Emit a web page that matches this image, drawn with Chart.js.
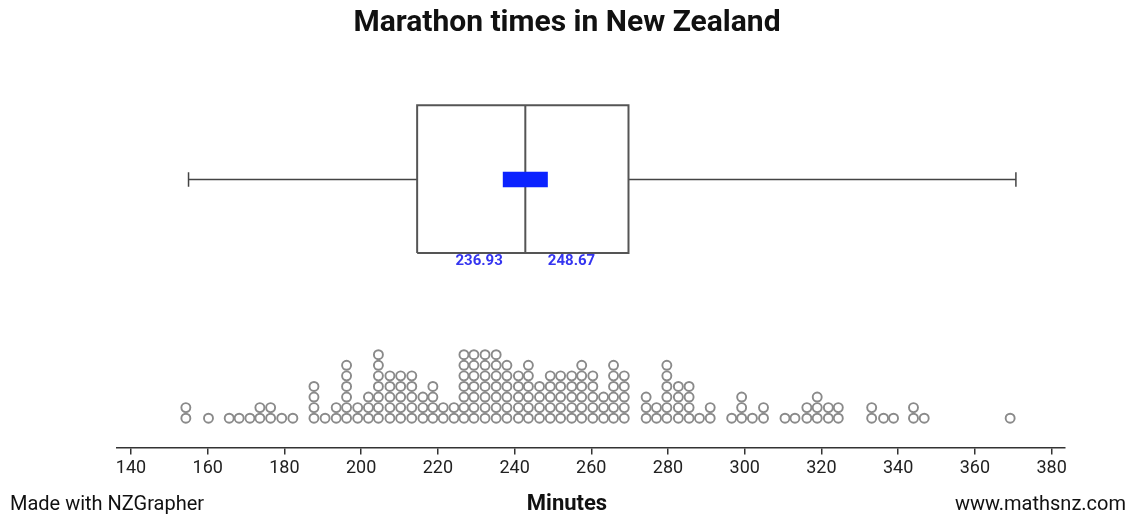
<!DOCTYPE html>
<html><head><meta charset="utf-8">
<script src="https://cdn.jsdelivr.net/npm/chart.js@4.4.0/dist/chart.umd.min.js"></script>
<style>
html,body{margin:0;padding:0;background:#fff;}
#wrap{position:relative;width:1134px;height:519px;overflow:hidden;font-family:Roboto,"Liberation Sans",sans-serif;}
#c{position:absolute;left:0;top:0;}
.t{position:absolute;white-space:nowrap;color:#111;line-height:1;}
#title{left:0;width:1134px;top:6px;text-align:center;font-weight:700;font-size:30px;}
#xt{left:0;width:1134px;top:492px;text-align:center;font-weight:700;font-size:22px;}
#made{left:10px;top:493px;font-size:20px;}
#site{right:8px;top:493px;font-size:20px;}
</style></head><body>
<div id="wrap">
<canvas id="c" width="1134" height="519"></canvas>
<div class="t" id="title">Marathon times in New Zealand</div>
<div class="t" id="xt">Minutes</div>
<div class="t" id="made">Made with NZGrapher</div>
<div class="t" id="site">www.mathsnz.com</div>
</div>
<script>
// ---- data ----
const columnMinutes = [154.3,160.2,165.6,168.2,171.0,173.6,176.4,179.3,182.2,187.7,190.6,193.5,196.2,199.1,201.9,204.5,207.5,210.3,213.2,216.1,218.7,221.4,224.2,226.8,229.4,232.3,235.2,238.0,241.0,243.6,246.5,249.3,252.0,254.9,257.5,260.4,263.2,265.8,268.6,274.3,277.0,279.7,282.7,285.5,288.2,291.0,296.6,299.2,302.0,304.9,310.5,313.1,316.2,318.9,321.8,324.4,333.1,336.2,338.8,344.0,346.8,369.2];
const columnCounts  = [2,1,1,1,1,2,2,1,1,4,1,2,6,2,3,7,5,5,5,3,4,2,2,7,7,7,7,6,5,6,4,5,5,5,6,5,3,6,5,3,2,6,4,4,1,2,1,3,1,2,1,1,2,3,2,2,2,1,1,2,1,1];
const fiveNumberSummary = [155.0, 214.6, 242.8, 269.7, 370.7]; // min, Q1, median, Q3, max
const confidenceInterval = [236.93, 248.67];
const tickValues = [140,160,180,200,220,240,260,280,300,320,340,360,380];

// ---- build ----
const dots = [];
columnMinutes.forEach((m, i) => { for (let k = 0; k < columnCounts[i]; k++) dots.push({x: m, y: k}); });

const [mn, q1, med, q3, mx] = fiveNumberSummary;
const W = 22.55, TOP = 29.56, BOT = 15.62, CAP = 0.68, LABY = 14.8;
const lineDs = (pts, color, width, order, extra) => Object.assign({
  type: 'scatter', data: pts, showLine: true, pointRadius: 0, borderColor: color,
  borderWidth: width, tension: 0, fill: false, order: order, borderJoinStyle: 'miter'
}, extra || {});

const labelPlugin = {
  id: 'ciLabels',
  afterDatasetsDraw(chart) {
    const {ctx, scales: {x, y}} = chart;
    ctx.save();
    ctx.font = 'bold 15px Roboto, "Liberation Sans", sans-serif';
    ctx.fillStyle = '#3535f0';
    ctx.textBaseline = 'middle';
    const py = y.getPixelForValue(LABY);
    ctx.textAlign = 'right';
    ctx.fillText(confidenceInterval[0].toFixed(2), x.getPixelForValue(confidenceInterval[0]), py);
    ctx.textAlign = 'left';
    ctx.fillText(confidenceInterval[1].toFixed(2), x.getPixelForValue(confidenceInterval[1]), py);
    ctx.restore();
  }
};

new Chart(document.getElementById('c'), {
  type: 'scatter',
  data: {
    datasets: [
      lineDs([{x: confidenceInterval[0], y: W}, {x: confidenceInterval[1], y: W}], '#0b22ff', 15.5, 0, {borderCapStyle: 'butt'}),
      lineDs([{x: q1, y: BOT}, {x: q1, y: TOP}, {x: q3, y: TOP}, {x: q3, y: BOT}, {x: q1, y: BOT}], '#555', 2, 2),
      lineDs([{x: med, y: BOT}, {x: med, y: TOP}], '#555', 2, 2),
      lineDs([{x: mn, y: W}, {x: q1, y: W}], '#444', 1.5, 2),
      lineDs([{x: q3, y: W}, {x: mx, y: W}], '#444', 1.5, 2),
      lineDs([{x: mn, y: W - CAP}, {x: mn, y: W + CAP}], '#444', 1.5, 2),
      lineDs([{x: mx, y: W - CAP}, {x: mx, y: W + CAP}], '#444', 1.5, 2),
      { type: 'scatter', data: dots, pointRadius: 4.5, borderWidth: 1.9,
        pointBorderColor: '#8a8a8a', pointBackgroundColor: '#fff', order: 3 }
    ]
  },
  options: {
    responsive: false, animation: false, events: [],
    layout: {padding: {left: 117, right: 69, top: 50, bottom: 37}},
    plugins: {legend: {display: false}, tooltip: {enabled: false}, title: {display: false}},
    scales: {
      x: {
        type: 'linear', min: 136.35, max: 383.5,
        afterBuildTicks: s => { s.ticks = tickValues.map(v => ({value: v})); },
        ticks: {font: {size: 18, family: 'Roboto'}, color: '#222', padding: 3, maxRotation: 0, autoSkip: false},
        grid: {drawOnChartArea: false, drawTicks: true, tickLength: 7, color: '#333', lineWidth: 1.5},
        border: {display: true, color: '#333', width: 1.5}
      },
      y: {display: false, min: -2.76, max: 34.79}
    }
  },
  plugins: [labelPlugin]
});
</script>
</body></html>
